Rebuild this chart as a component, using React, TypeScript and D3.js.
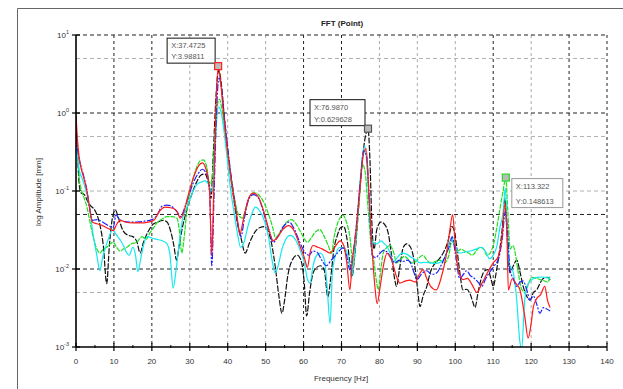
import React from "react";
import * as d3 from "d3";

// FFT spectra of five measurement points (frequency in Hz, amplitude in mm)
const blackFreq = [0,0.4,0.8,1.3,2.2,3,3.8,4.6,5.5,6.4,7.2,8.1,8.8,9.6,10.4,11.2,12.4,13.8,15,16.1,16.9,17.8,19,20.2,21.5,23,24,25,25.8,26.5,27.2,28,29.2,30.5,31.8,33,34,35,35.6,36.2,36.9,37.6,38.3,39,39.8,40.6,41.5,42.5,43.5,44.6,45.8,47.2,48.5,49.6,50.6,51.5,52.5,53.5,54.3,55,55.8,57,58.3,59.3,60.2,60.8,61.6,62.5,63.5,64.5,65.5,66.4,67.2,68,68.8,69.8,70.6,71.4,72.2,72.7,73.5,74.5,75.5,76.3,76.987,77.5,78,78.6,79.3,80.4,81.4,82.3,83.2,84,84.5,85.3,86.3,87.2,88.2,89,89.9,90.7,91.5,92.5,93.4,94.2,95.5,96.8,98,99.1,99.8,100.5,101.2,102,103,103.9,104.6,105.2,106,107,107.8,108.6,109.4,110,110.7,111.3,112.3,113.1,113.6,114.4,115.3,116.2,117.1,117.9,118.8,119.7,120.6,121.5,122.3,123.1,124.4,125];
const blackAmp = [0.7,0.3,0.13,0.095,0.09,0.075,0.065,0.06,0.05,0.035,0.02,0.0065,0.02,0.045,0.057,0.045,0.031,0.027,0.026,0.022,0.016,0.022,0.03,0.037,0.04,0.042,0.04,0.03,0.02,0.013,0.02,0.033,0.057,0.09,0.13,0.16,0.165,0.12,0.08,0.3,1.6,3.5,2.4,1.0,0.4,0.18,0.085,0.04,0.025,0.016,0.022,0.03,0.034,0.035,0.031,0.022,0.011,0.0045,0.0027,0.004,0.008,0.013,0.015,0.013,0.0065,0.0025,0.005,0.0089,0.0105,0.011,0.0095,0.0044,0.008,0.018,0.026,0.034,0.035,0.025,0.012,0.0078,0.015,0.06,0.25,0.5,0.629628,0.25,0.04,0.018,0.032,0.04,0.037,0.029,0.015,0.0075,0.006,0.01,0.019,0.021,0.019,0.014,0.0065,0.0033,0.0045,0.006,0.009,0.011,0.013,0.016,0.022,0.035,0.03,0.017,0.009,0.0054,0.0055,0.0048,0.0038,0.0032,0.005,0.008,0.0095,0.0098,0.0075,0.006,0.0085,0.013,0.03,0.08,0.03,0.009,0.011,0.013,0.009,0.006,0.0045,0.004,0.005,0.0054,0.0065,0.0075,0.0078,0.0072];

const redFreq = [0,0.4,0.8,1.3,2,2.9,3.6,4.3,5.5,7,8.5,9.8,10.8,11.6,13,15,17,19,20.5,22,23.5,25,26.5,27.5,28.5,29.5,31,32.3,33.3,34.3,35.2,35.8,36.3,36.9,37.4725,38.1,38.8,39.6,40.5,41.5,42.5,43.2,44.2,45.5,46.7,48,49.5,51,52,53,54.5,56,57.5,59,60.2,61,61.8,62.5,63.8,65,67,68.5,69.6,70.6,71.4,72.2,72.8,73.8,74.8,75.8,76.5,77.2,78,78.8,79.4,80.2,81.2,82,83.2,84.5,85.4,86.8,88,89.4,90.5,91.5,92.5,93.5,95,96.2,97.5,98.5,99.3,100,100.6,102,103.2,104.5,105.7,107,108.5,110,111.2,112.3,113.1,113.6,114,115,116,117,118.3,119.2,120,120.6,121.5,122.5,123.6,124.3,125];
const redAmp = [0.95,0.45,0.28,0.2,0.15,0.1,0.06,0.04,0.038,0.036,0.033,0.031,0.038,0.042,0.04,0.039,0.039,0.04,0.042,0.055,0.062,0.061,0.056,0.045,0.055,0.085,0.15,0.21,0.23,0.19,0.1,0.015,0.1,1.2,3.98811,2.6,1.1,0.45,0.2,0.09,0.045,0.028,0.045,0.08,0.094,0.085,0.055,0.03,0.023,0.025,0.032,0.036,0.031,0.02,0.014,0.0105,0.017,0.02,0.019,0.018,0.016,0.02,0.023,0.02,0.012,0.0054,0.012,0.03,0.1,0.3,0.35,0.1,0.02,0.006,0.0036,0.006,0.012,0.016,0.013,0.008,0.0066,0.007,0.0072,0.0068,0.0085,0.0098,0.0075,0.006,0.0054,0.0075,0.014,0.03,0.05,0.02,0.011,0.0073,0.0076,0.0062,0.005,0.0065,0.009,0.012,0.014,0.025,0.07,0.03,0.0054,0.0075,0.0065,0.0055,0.0025,0.0013,0.002,0.0033,0.0042,0.0047,0.006,0.004,0.0032];

const blueFreq = [0,0.4,0.9,1.4,2.1,2.9,3.6,4.3,5.5,7,8.5,9.8,10.6,11.2,12.5,14,16,18,20,21.5,22.7,24,25.5,26.8,27.6,28.6,29.8,31,32.3,33.3,34.3,35.2,35.8,36.4,37,37.7,38.4,39.1,39.9,40.8,41.8,42.8,43.5,44.4,45.6,46.8,48.2,49.6,51,52,53.2,54.7,56.2,57.5,59,60.5,61.4,62.5,63.5,64.8,66,67.3,68.7,70.4,71.3,72.2,73,74,75,75.9,76.6,77.3,78.1,79,80.2,81.2,82,83,84.1,85.2,86.3,87.3,88.2,89.1,89.9,91,92.5,93.8,95.2,96.2,97.5,98.5,99.2,100,101.2,102.1,103,104,104.7,106,107,108,109,110.3,111.5,112.4,113.2,113.8,114.4,115.3,116.2,117.1,117.9,118.8,119.7,120.6,121.5,122.3,123.2,124,125];
const blueAmp = [0.5,0.35,0.25,0.2,0.15,0.1,0.06,0.042,0.043,0.04,0.036,0.034,0.05,0.045,0.041,0.04,0.04,0.041,0.043,0.05,0.064,0.066,0.062,0.053,0.047,0.06,0.09,0.13,0.17,0.19,0.17,0.11,0.011,0.09,0.9,2.8,2.0,0.9,0.4,0.17,0.075,0.035,0.026,0.045,0.08,0.09,0.08,0.05,0.03,0.022,0.026,0.035,0.04,0.033,0.022,0.016,0.015,0.017,0.0165,0.013,0.011,0.013,0.0155,0.0187,0.015,0.0098,0.015,0.04,0.14,0.33,0.28,0.08,0.015,0.014,0.016,0.0175,0.0165,0.014,0.012,0.013,0.0125,0.013,0.012,0.009,0.0073,0.0085,0.0095,0.0085,0.009,0.011,0.015,0.02,0.026,0.016,0.0075,0.0085,0.0095,0.0082,0.0078,0.0068,0.006,0.0075,0.009,0.011,0.014,0.025,0.055,0.03,0.0098,0.0075,0.006,0.0068,0.007,0.0055,0.004,0.0045,0.0035,0.0027,0.0032,0.0031,0.0029];

const greenFreq = [0,0.4,0.9,1.5,2.2,2.9,3.7,4.6,5.5,6.3,7.2,8.1,9,9.8,10.7,11.6,12.5,13.4,14.6,16,17.4,18.5,19.5,20.5,21.3,22.5,24,25.3,26.6,27.3,27.9,28.5,29.3,30.5,31.8,32.8,33.6,34.5,35.3,35.9,36.6,37.2,37.8,38.5,39.2,40,40.9,41.8,42.8,43.8,44.8,45.8,47,48.3,49.6,50.8,51.8,52.6,53.5,54.6,55.6,56.8,58,59.2,60.3,61,62,63.2,64.3,65.3,66.5,67.4,68,68.7,69.6,70.4,71.3,72.2,73.1,73.8,74.7,75.5,76.2,77,77.8,78.6,79.2,79.7,80.3,81,82,82.8,83.8,84.5,85.5,86.5,87.5,88.5,89.6,90.5,91.5,92.5,93.5,94.8,96,97.2,98.3,99.1,99.8,100.6,101.6,102.5,103.5,104.5,105.5,106.5,107.5,108.3,109.2,110.2,111,111.8,112.6,113.322,113.8,114.5,115.2,115.8,116.6,117.5,118.4,119.3,120.2,121,121.8,122.8,123.6,124.4,125];
const greenAmp = [0.5,0.3,0.14,0.1,0.08,0.062,0.04,0.025,0.018,0.016,0.018,0.019,0.021,0.022,0.019,0.017,0.018,0.019,0.021,0.022,0.026,0.024,0.029,0.034,0.039,0.043,0.047,0.047,0.045,0.03,0.016,0.025,0.06,0.12,0.2,0.245,0.25,0.2,0.12,0.15,0.5,1.2,1.5,1.1,0.6,0.3,0.15,0.08,0.05,0.045,0.06,0.085,0.095,0.088,0.07,0.05,0.035,0.025,0.028,0.035,0.04,0.043,0.038,0.03,0.024,0.022,0.025,0.03,0.032,0.027,0.02,0.016,0.025,0.035,0.045,0.049,0.04,0.026,0.011,0.025,0.08,0.22,0.18,0.06,0.02,0.012,0.007,0.0054,0.009,0.016,0.019,0.02,0.016,0.012,0.013,0.0145,0.0135,0.012,0.0125,0.014,0.015,0.013,0.012,0.0125,0.013,0.012,0.015,0.023,0.02,0.017,0.018,0.017,0.016,0.015,0.017,0.019,0.018,0.015,0.016,0.022,0.035,0.06,0.1,0.148613,0.06,0.018,0.02,0.016,0.009,0.0055,0.005,0.0065,0.0078,0.0077,0.0075,0.0072,0.007,0.0068,0.0082];

const cyanFreq = [0,0.4,0.9,1.5,2.2,3,3.7,4.4,5,5.5,6.3,7,8.1,9,9.6,10.3,11,11.8,12.5,13.4,14,15,15.7,16.3,17,17.8,18.7,20,21.3,22.8,24,24.8,25.6,26.3,26.9,27.6,28.2,29.2,30.5,31.8,33,34,35,35.7,36.3,36.9,37.6,38.3,39,39.8,40.6,41.5,42.5,43.4,44.3,45.3,46.3,47.3,48.5,49.8,50.8,51.7,52.5,53.3,54.3,55.3,56.5,57.8,59,60.2,61,61.7,62.5,63.5,64.5,65.5,66.2,67,67.6,68.6,69.6,70.8,71.8,72.7,73.5,74.5,75.4,76.1,76.8,77.5,78.2,79.3,80.5,81.3,82,83,83.6,84.7,86,87.2,88.5,89.6,90.7,92,93.3,94.5,95.7,96.8,98,99,99.8,101,102.5,104,105.5,107,108.2,109,110,111,111.8,112.6,113.2,113.7,114.2,115.3,116.2,117,117.5,118.3,118.9,119.8,120.5,121.5,122.8,124,125];
const cyanAmp = [0.4,0.28,0.18,0.15,0.12,0.085,0.057,0.03,0.02,0.015,0.0095,0.014,0.021,0.028,0.032,0.029,0.026,0.023,0.02,0.016,0.015,0.019,0.015,0.0092,0.013,0.02,0.026,0.025,0.024,0.023,0.021,0.015,0.0057,0.009,0.016,0.03,0.047,0.06,0.09,0.12,0.13,0.135,0.12,0.1,0.15,0.6,1.2,1.0,0.6,0.28,0.12,0.06,0.03,0.019,0.022,0.035,0.05,0.062,0.055,0.04,0.025,0.013,0.0089,0.011,0.018,0.024,0.027,0.024,0.018,0.012,0.0075,0.0066,0.011,0.015,0.016,0.013,0.006,0.002,0.009,0.016,0.019,0.0185,0.014,0.008,0.018,0.07,0.25,0.38,0.18,0.04,0.022,0.021,0.023,0.021,0.0195,0.015,0.012,0.014,0.016,0.0155,0.014,0.013,0.012,0.0122,0.012,0.0118,0.012,0.013,0.018,0.025,0.021,0.016,0.0165,0.017,0.018,0.019,0.016,0.0135,0.015,0.02,0.035,0.052,0.11,0.03,0.012,0.009,0.004,0.0012,0.00095,0.004,0.006,0.007,0.0075,0.0078,0.0079,0.0078,0.0074];

const xTicks = [0,10,20,30,40,50,60,70,80,90,100,110,120,130,140];
const xMinorTicks = [5,15,25,35,45,55,65,75,85,95,105,115,125,135];
const yTickExps = [1,0,-1,-2,-3];
const yGridValues = [5,1,0.5,0.1,0.05,0.01,0.005];
const darkXGrid = [10,20,60,70,110,130,140];
const darkYGrid = [1,0.05,0.01];

// Data tips anchored on the peaks
const tips = [
  { x: 37.4725, y: 3.98811, lx: "X:37.4725", ly: "Y:3.98811", color: "#ff2020", side: "left", w: 48, h: 25, border: "#111" },
  { x: 76.987, y: 0.629628, lx: "X:76.9870", ly: "Y:0.629628", color: "#555", side: "left", w: 55, h: 26, border: "#111" },
  { x: 113.322, y: 0.148613, lx: "X:113.322", ly: "Y:0.148613", color: "#22dd22", side: "right", w: 51, h: 29, border: "#999" },
];

const W = 623, H = 389;
const L = 76, R = 607, T = 35, B = 347;

const x = d3.scaleLinear().domain([0, 140]).range([L, R]);
const y = d3.scaleLog().domain([1e-3, 1e1]).range([B, T]);

function pathFor(freq: number[], amp: number[]) {
  const line = d3
    .line<number>()
    .x((_, i) => x(freq[i]))
    .y((d) => y(Math.max(d, 5e-4)))
    .curve(d3.curveMonotoneX);
  return line(amp) || "";
}

const series = [
  { f: blackFreq, a: blackAmp, color: "#111", dash: "6,1.5" },
  { f: greenFreq, a: greenAmp, color: "#1ee01e", dash: "5,1" },
  { f: cyanFreq, a: cyanAmp, color: "#14e8f0", dash: "" },
  { f: blueFreq, a: blueAmp, color: "#2020ff", dash: "7,1.5,2,1.5" },
  { f: redFreq, a: redAmp, color: "#ff1a1a", dash: "" },
];

export default function App() {
  const font = "'Liberation Sans', Arial, sans-serif";
  return (
    <svg
      width={W}
      height={H}
      style={{ position: "absolute", left: 0, top: 0, background: "#fff" }}
      fontFamily={font}
    >
      <rect x={0} y={0} width={W} height={H} fill="#fff" />
      {/* figure frame */}
      <line x1={17.5} y1={8.5} x2={W} y2={8.5} stroke="#666" strokeWidth={1} />
      <line x1={17.5} y1={8.5} x2={17.5} y2={H} stroke="#666" strokeWidth={1} />

      <defs>
        <clipPath id="plotClip">
          <rect x={L} y={T - 2} width={R - L} height={B - T + 2} />
        </clipPath>
      </defs>

      {/* grid */}
      {xTicks.filter((t) => t > 0).map((t) => (
        <line
          key={"gx" + t}
          x1={x(t)}
          x2={x(t)}
          y1={T}
          y2={B}
          stroke={darkXGrid.includes(t) ? "#222" : "#aaa"}
          strokeWidth={1}
          strokeDasharray="3,3"
        />
      ))}
      <line x1={L} x2={R} y1={y(10)} y2={y(10)} stroke="#222" strokeDasharray="4,3" />
      {yGridValues.map((v) => (
        <line
          key={"gy" + v}
          x1={L}
          x2={R}
          y1={y(v)}
          y2={y(v)}
          stroke={darkYGrid.includes(v) ? "#222" : "#b0b0b0"}
          strokeWidth={1}
          strokeDasharray="4,3"
        />
      ))}

      {/* spectra */}
      <g clipPath="url(#plotClip)">
        {series.map((s, i) => (
          <path
            key={i}
            d={pathFor(s.f, s.a)}
            fill="none"
            stroke={s.color}
            strokeWidth={1.2}
            strokeDasharray={s.dash || undefined}
            strokeLinejoin="round"
          />
        ))}
      </g>

      {/* axes */}
      <line x1={L} x2={L} y1={T} y2={B} stroke="#000" strokeWidth={1.6} />
      <line x1={L} x2={R} y1={B} y2={B} stroke="#000" strokeWidth={1.6} />
      {xTicks.map((t) => (
        <g key={"xt" + t}>
          <line x1={x(t)} x2={x(t)} y1={B - 4} y2={B + 4} stroke="#000" strokeWidth={1.2} />
          <text x={x(t)} y={364} fontSize={8} textAnchor="middle" fill="#333">
            {t}
          </text>
        </g>
      ))}
      {xMinorTicks.map((t) => (
        <line key={"xm" + t} x1={x(t)} x2={x(t)} y1={B - 2} y2={B + 1} stroke="#000" strokeWidth={1} />
      ))}
      {yTickExps.map((e) => (
        <g key={"yt" + e}>
          <line x1={L - 4} x2={L + 4} y1={y(Math.pow(10, e))} y2={y(Math.pow(10, e))} stroke="#000" strokeWidth={1.2} />
          <text x={69} y={y(Math.pow(10, e)) + 3} fontSize={8} textAnchor="end" fill="#333">
            10
            <tspan dy={-4} fontSize={5.5}>
              {e === 0 ? "0" : e > 0 ? String(e) : "-" + String(-e)}
            </tspan>
          </text>
        </g>
      ))}

      {/* titles */}
      <text x={342} y={26} fontSize={8} fontWeight="bold" textAnchor="middle" fill="#222">
        FFT (Point)
      </text>
      <text x={341} y={381} fontSize={8} textAnchor="middle" fill="#333">
        Frequency [Hz]
      </text>
      <text
        transform={`translate(41,${(T + B) / 2 + 1}) rotate(-90)`}
        fontSize={8}
        textAnchor="middle"
        fill="#333"
      >
        log Amplitude [mm]
      </text>

      {/* data tips */}
      {tips.map((tp, i) => {
        const mx = x(tp.x);
        const my = y(tp.y);
        const bx = tp.side === "left" ? mx - 3 - tp.w : mx + 6;
        const by = tp.side === "left" ? my - 3 - tp.h : my + 1;
        return (
          <g key={"tip" + i}>
            <rect x={bx} y={by} width={tp.w} height={tp.h} fill="#fff" stroke={tp.border} strokeWidth={1} />
            <text x={bx + 4} y={by + 10} fontSize={7.5} fill="#555">
              {tp.lx}
            </text>
            <text x={bx + 4} y={by + tp.h - 4} fontSize={7.5} fill="#555">
              {tp.ly}
            </text>
            <rect x={mx - 3.5} y={my - 3.5} width={7} height={7} fill="#bbb" stroke={tp.color} strokeWidth={1.2} />
          </g>
        );
      })}
    </svg>
  );
}
